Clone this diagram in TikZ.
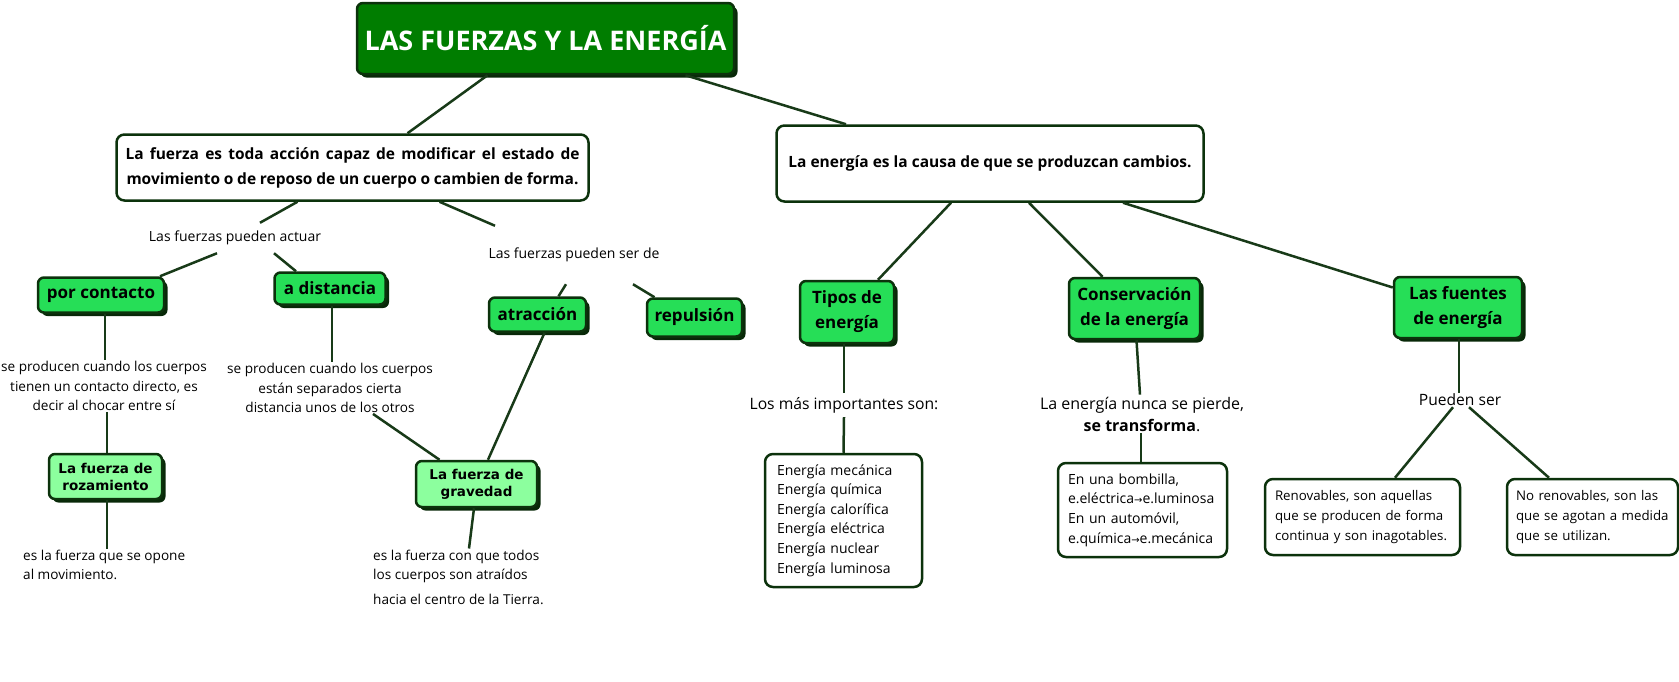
\documentclass[tikz,border=0pt]{standalone}
\usepackage{fontspec}
\setmainfont{Open Sans}
\newfontfamily\boxfont{DejaVu Sans}
\usetikzlibrary{shadows}
\definecolor{titlegreen}{RGB}{0,125,0}
\definecolor{boxgreen}{RGB}{38,222,87}
\definecolor{palegreen}{RGB}{140,255,158}
\definecolor{edgegreen}{RGB}{12,50,12}
\definecolor{linkgreen}{RGB}{24,58,24}
\definecolor{shadowgreen}{RGB}{8,40,8}
\newcommand{\flecha}{{\boxfont\fontsize{10}{10}\selectfont →}}

\begin{document}
\begin{tikzpicture}[x=1pt,y=-1pt,
 link/.style={draw=linkgreen,line width=2.5pt},
 shade/.style={drop shadow={shadow xshift=3.5pt,shadow yshift=-3.5pt,fill=shadowgreen,opacity=1}},
 titlebox/.style={shade,fill=titlegreen,draw=edgegreen,line width=2.5pt,rounded corners=6pt,inner sep=0pt,
  text=white,font=\fontsize{27}{32}\selectfont\bfseries},
 greenbox/.style={shade,fill=boxgreen,draw=edgegreen,line width=2.5pt,rounded corners=6pt,inner sep=0pt,
  align=center,font=\fontsize{17}{25}\selectfont\bfseries},
 palebox/.style={shade,fill=palegreen,draw=edgegreen,line width=2.5pt,rounded corners=6pt,inner sep=0pt,
  align=center,font=\boxfont\fontsize{13.5}{17}\selectfont\bfseries},
 ideabox/.style={fill=white,draw=edgegreen,line width=2.5pt,rounded corners=8pt,inner sep=0pt,
  align=center,font=\fontsize{15.5}{25}\selectfont\bfseries},
 listbox/.style={fill=white,draw=edgegreen,line width=2.5pt,rounded corners=8pt,inner ysep=0pt,
  align=left,font=\fontsize{14}{19.6}\selectfont},
 phrase/.style={inner xsep=2pt,align=center,font=\fontsize{14}{16}\selectfont},
 note/.style={inner sep=1pt,font=\fontsize{13.6}{19.5}\selectfont}]
 \fill[white] (0,0) rectangle (1679,681);
 \useasboundingbox (0,0) rectangle (1679,681);

 \node[titlebox,minimum width=377pt,minimum height=71pt] (title) at (545.5,38.5) {LAS FUERZAS Y LA ENERGÍA};

 \node[ideabox,minimum width=472pt,minimum height=66pt] (fuerza) at (352.5,167.5)
  {\makebox[454pt][s]{La fuerza es toda acción capaz de modificar el estado de}\\
   \makebox[452pt][s]{movimiento o de reposo de un cuerpo o cambien de forma.}};
 \node[ideabox,minimum width=427pt,minimum height=76pt] (energia) at (990,163.5)
  {La energía es la causa de que se produzcan cambios.};

 \node[phrase,inner ysep=8pt] (actuar) at (235,238) {Las fuerzas pueden actuar};
 \node[phrase,inner ysep=22pt] (serde) at (574,255) {Las fuerzas pueden ser de};

 \node[greenbox,minimum width=126pt,minimum height=35pt] (contacto) at (101,295) {por contacto};
 \node[greenbox,minimum width=111pt,minimum height=32pt] (distancia) at (330,288.5) {a distancia};
 \node[greenbox,minimum width=97pt,minimum height=34pt] (atraccion) at (537.5,314.5) {atracción};
 \node[greenbox,minimum width=95pt,minimum height=38pt] (repulsion) at (694.5,317.5) {repulsión};

 \node[note,align=center] (contactotxt) at (104,386)
  {se producen cuando los cuerpos\\tienen un contacto directo, es\\decir al chocar entre sí};
 \node[note,align=center] (distanciatxt) at (330,388)
  {se producen cuando los cuerpos\\están separados cierta\\distancia unos de los otros};

 \node[palebox,minimum width=113pt,minimum height=45pt] (rozamiento) at (105.5,476.5) {La fuerza de\\rozamiento};
 \node[palebox,minimum width=121pt,minimum height=46pt] (gravedad) at (476.5,484) {La fuerza de\\gravedad};

 \node[note,align=left,anchor=west] (rozatxt) at (22,565)
  {es la fuerza que se opone\\al movimiento.};
 \node[note,align=left,anchor=west] (gravtxt) at (372,577)
  {es la fuerza con que todos\\los cuerpos son atraídos\\[5pt]hacia el centro de la Tierra.};

 \node[greenbox,minimum width=94pt,minimum height=62pt] (tipos) at (847,312) {Tipos de\\energía};
 \node[greenbox,minimum width=131pt,minimum height=61pt] (conservacion) at (1134.5,308.5) {Conservación\\de la energía};
 \node[greenbox,minimum width=128pt,minimum height=61pt] (fuentes) at (1458,307.5) {Las fuentes\\de energía};

 \node[phrase,inner ysep=4pt,font=\fontsize{15.7}{19}\selectfont] (importantes) at (844,405) {Los más importantes son:};
 \node[phrase,inner ysep=2pt,font=\fontsize{16}{22}\selectfont] (pierde) at (1142,414)
  {La energía nunca se pierde,\\\textbf{se transforma}.};
 \node[phrase,inner ysep=1pt,font=\fontsize{15.6}{19}\selectfont] (pueden) at (1460,400) {Pueden ser};

 \node[listbox,inner xsep=12pt,text width=133pt,minimum height=133pt] (tiposlist) at (843.5,520.5)
  {Energía mecánica\\Energía química\\Energía calorífica\\Energía eléctrica\\Energía nuclear\\Energía luminosa};
 \node[listbox,inner xsep=10pt,text width=149pt,minimum height=94pt] (conslist) at (1142.5,510)
  {En una bombilla,\\e.eléctrica\flecha e.luminosa\\En un automóvil,\\e.química\flecha e.mecánica};
 \node[listbox,inner xsep=10pt,text width=175pt,minimum height=76pt,font=\fontsize{13.3}{19.6}\selectfont] (renov) at (1362.5,517)
  {Renovables, son aquellas\\que se producen de forma\\continua y son inagotables.};
 \node[listbox,inner xsep=9pt,text width=153pt,minimum height=76pt,font=\fontsize{13.3}{19.6}\selectfont] (norenov) at (1592.5,517)
  {No renovables, son las\\que se agotan a medida\\que se utilizan.};

 \draw[link] ([xshift=-58pt]title.south) -- ([xshift=55pt]fuerza.north);
 \draw[link] ([xshift=140pt]title.south) -- ([xshift=-144pt]energia.north);

 \draw[link] ([xshift=-55pt]fuerza.south) -- ([xshift=25pt]actuar.north);
 \draw[link] ([xshift=-18pt]actuar.south) -- ([xshift=59pt]contacto.north);
 \draw[link] ([xshift=39pt]actuar.south) -- ([xshift=-34pt]distancia.north);
 \draw[link] ([xshift=87pt]fuerza.south) -- ([xshift=-79pt]serde.north);
 \draw[link] ([xshift=-8pt]serde.south) -- ([xshift=21pt]atraccion.north);
 \draw[link] ([xshift=59pt]serde.south) -- ([xshift=-40pt]repulsion.north);

 \draw[link] ([xshift=4pt]contacto.south) -- ([xshift=1pt]contactotxt.north);
 \draw[link] ([xshift=3pt]contactotxt.south) -- ([xshift=1.5pt]rozamiento.north);
 \draw[link] ([xshift=1.5pt]rozamiento.south) -- ([xshift=1.5pt]rozamiento.south |- rozatxt.north);
 \draw[link] ([xshift=2pt]distancia.south) -- ([xshift=2pt]distanciatxt.north);
 \draw[link] ([xshift=43pt]distanciatxt.south) -- ([xshift=-37pt]gravedad.north);
 \draw[link] ([xshift=7pt]atraccion.south) -- ([xshift=11.5pt]gravedad.north);
 \draw[link] ([xshift=-2.5pt]gravedad.south) -- ([xshift=-7.5pt]gravedad.south |- gravtxt.north);

 \draw[link] ([xshift=-39pt]energia.south) -- ([xshift=31pt]tipos.north);
 \draw[link] ([xshift=39pt]energia.south) -- ([xshift=-32pt]conservacion.north);
 \draw[link] ([xshift=133pt]energia.south) -- ([yshift=20pt]fuentes.west);
 \draw[link] ([xshift=-3pt]tipos.south) -- (importantes.north);
 \draw[link] (importantes.south) -- (tiposlist.north);
 \draw[link] ([xshift=2pt]conservacion.south) -- ([xshift=-2pt]pierde.north);
 \draw[link] ([xshift=-1pt]pierde.south) -- ([xshift=-1.5pt]conslist.north);
 \draw[link] ([xshift=1pt]fuentes.south) -- ([xshift=-1pt]pueden.north);
 \draw[link] ([xshift=-7pt]pueden.south) -- ([xshift=32.5pt]renov.north);
 \draw[link] ([xshift=9pt]pueden.south) -- ([xshift=-43.5pt]norenov.north);
\end{tikzpicture}
\end{document}
